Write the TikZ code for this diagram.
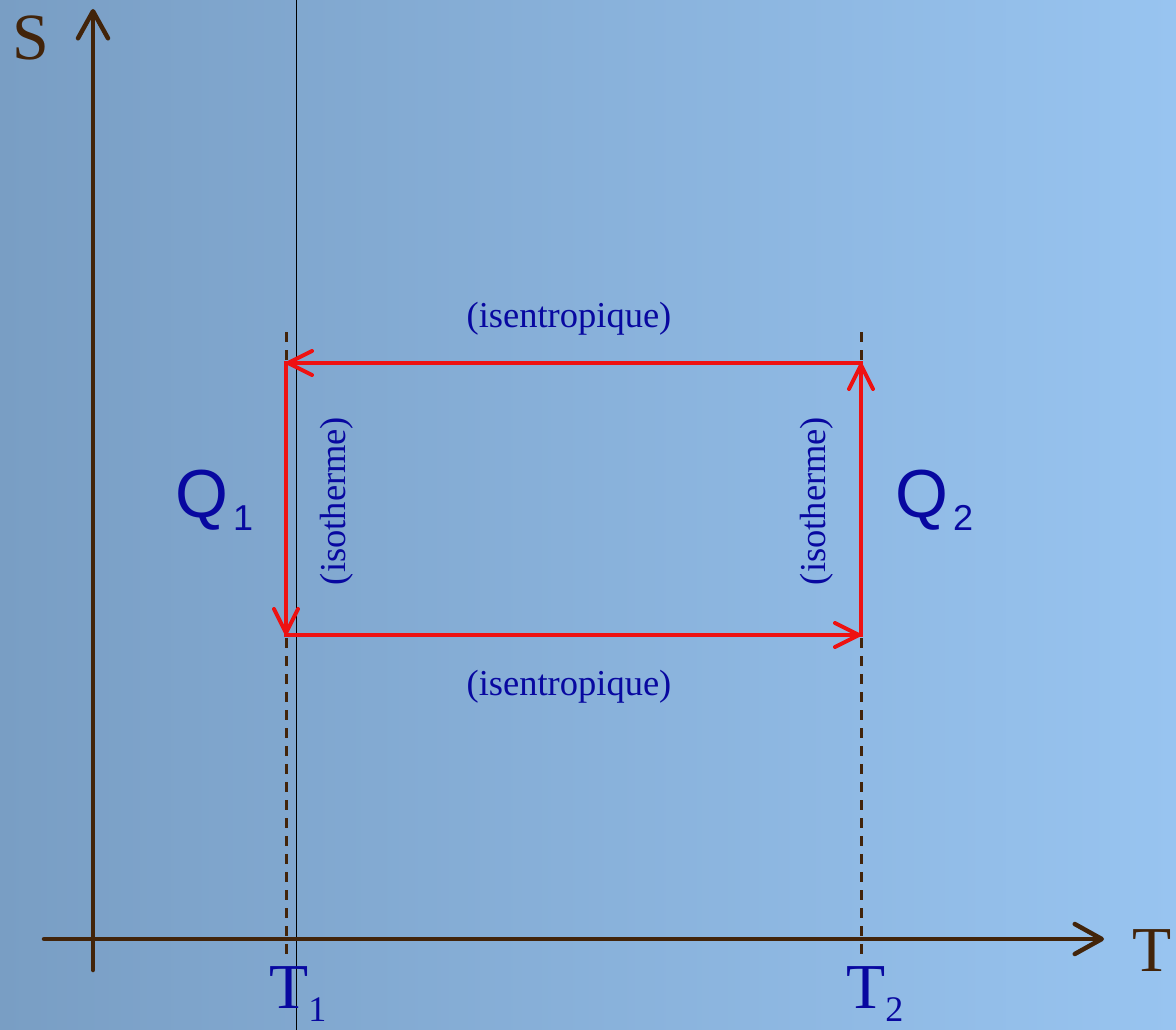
\documentclass[tikz,border=0pt]{standalone}
\usepackage{fontspec}
\setmainfont{Liberation Serif}
\newfontfamily\qsans{Liberation Sans}
\usetikzlibrary{arrows.meta}
\definecolor{bgleft}{RGB}{121,158,196}
\definecolor{bgright}{RGB}{152,196,240}
\definecolor{axisbrown}{RGB}{66,36,10}
\definecolor{cyclered}{RGB}{238,18,18}
\definecolor{labelblue}{RGB}{8,8,160}
\begin{document}
\begin{tikzpicture}[x=1pt,y=-1pt,
  axisline/.style={draw=axisbrown,line width=4.5pt,line cap=round},
  axistip/.style={-{Straight Barb[length=27pt,width=30pt,round]}},
  cycleline/.style={draw=cyclered,line width=4pt,line cap=rect,-{Straight Barb[length=24pt,width=24pt,round]}},
  guide/.style={draw=axisbrown,line width=3pt,dash pattern=on 10pt off 8pt},
  axislabel/.style={anchor=base west,inner sep=0pt,text=axisbrown},
  bluelabel/.style={inner sep=0pt,text=labelblue},
  smalllabel/.style={bluelabel,font=\fontsize{36.5}{40}\selectfont}
]
% background
\shade[left color=bgleft,right color=bgright] (0,0) rectangle (1176,1030);
\useasboundingbox (0,0) rectangle (1176,1030);

% coordinates
\coordinate (vtop) at (296,0);
\coordinate (vbot) at (296,1030);
\coordinate (sbot) at (93,970);
\coordinate (stop) at (93,9);
\coordinate (tleft) at (44,939);
\coordinate (tright) at (1104,939);
\coordinate (A) at (286,363);
\coordinate (B) at (861,363);
\coordinate (C) at (861,635);
\coordinate (D) at (286,635);
\coordinate (d1top) at (286,332);
\coordinate (d1bot) at (286,956);
\coordinate (d2top) at (861,332);
\coordinate (d2bot) at (861,956);

% thin black vertical line
\draw[black,line width=1pt] (vtop) -- (vbot);

% dashed guides
\draw[guide] (d1top) -- (d1bot);
\draw[guide] (d2top) -- (d2bot);

% axes
\draw[axisline,axistip] (sbot) -- (stop);
\draw[axisline,axistip] (tleft) -- (tright);

% cycle
\draw[cycleline] (B) -- (A);
\draw[cycleline] (A) -- (D);
\draw[cycleline] (D) -- (C);
\draw[cycleline] (C) -- (B);

% axis labels
\node[axislabel] (Slab) at (12,60) {\fontsize{66}{66}\selectfont S};
\node[axislabel] (Tlab) at (1132,971) {\fontsize{64}{64}\selectfont T};

% temperature labels
\node[bluelabel,anchor=base west] (T1) at (269,1008)
  {\fontsize{64}{64}\selectfont T\raisebox{-13pt}{\fontsize{36}{36}\selectfont 1}};
\node[bluelabel,anchor=base west] (T2) at (846,1008)
  {\fontsize{64}{64}\selectfont T\raisebox{-13pt}{\fontsize{36}{36}\selectfont 2}};

% heat labels
\node[bluelabel,anchor=base west] (Q1) at (175,517)
  {\qsans\fontsize{68}{68}\selectfont Q\hspace{5pt}\raisebox{-13pt}{\fontsize{36}{36}\selectfont 1}};
\node[bluelabel,anchor=base west] (Q2) at (895,517)
  {\qsans\fontsize{68}{68}\selectfont Q\hspace{5pt}\raisebox{-13pt}{\fontsize{36}{36}\selectfont 2}};

% process labels
\node[smalllabel] (isenTop) at (569,319) {(isentropique)};
\node[smalllabel] (isenBot) at (569,687) {(isentropique)};
\node[smalllabel,rotate=90] (isoLeft) at (337,501) {(isotherme)};
\node[smalllabel,rotate=90] (isoRight) at (817,501) {(isotherme)};
\end{tikzpicture}
\end{document}
